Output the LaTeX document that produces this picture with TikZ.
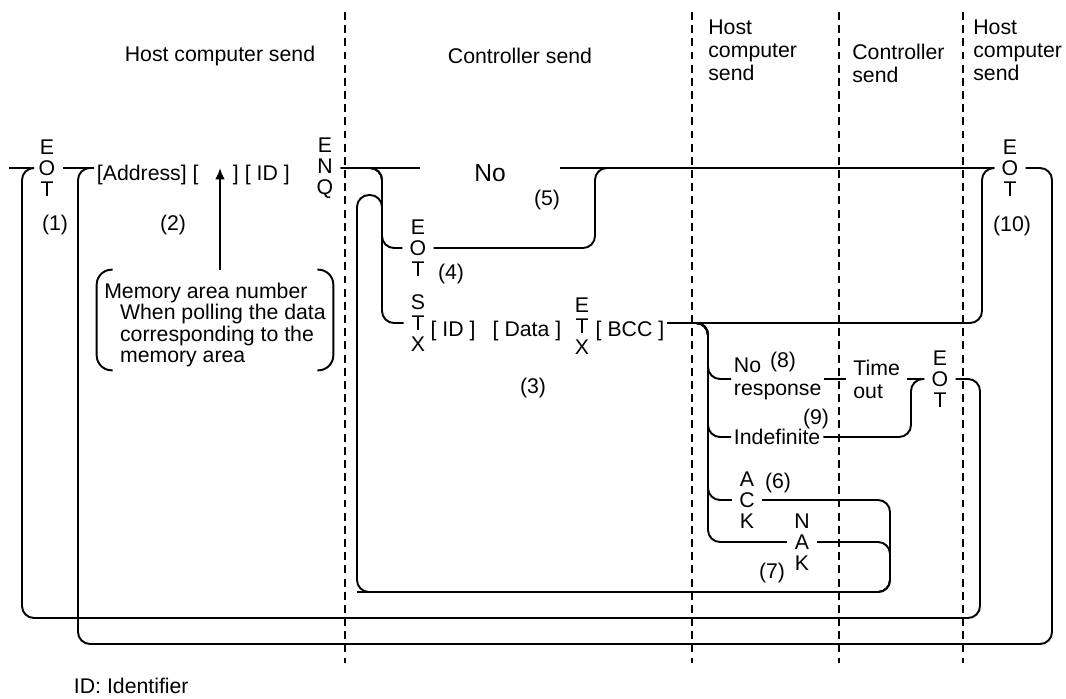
\documentclass[tikz,border=0pt]{standalone}
\usepackage{fontspec}
\setmainfont{Liberation Sans}
\usetikzlibrary{arrows.meta}

\tikzset{
  txt/.style={inner sep=1.5pt, font=\fontsize{12.1}{14}\selectfont},
  stack/.style={align=center, inner xsep=4pt, inner ysep=0pt, font=\fontsize{12.1}{12}\selectfont},
  head/.style={align=left, anchor=west, inner sep=0pt, font=\fontsize{12.1}{13}\selectfont},
  wire/.style={line width=1.1pt, rounded corners=2.4mm},
  sep/.style={line width=0.85pt, dash pattern=on 4.5pt off 3pt},
}

\begin{document}
\begin{tikzpicture}[x=0.02cm, y=-0.02cm]
    \useasboundingbox (0,0) rectangle (1066,699);

    % Dashed lines between senders
    \foreach \x in {345,692,839,963}{
        \draw[sep] (\x,12) -- (\x,663);
    }

    % Headings
    \node[txt] (hostA) at (220,56) {Host computer send};
    \node[txt] (ctrlA) at (520,56) {Controller send};
    \node[head] (hostB) at (708,50) {Host\\computer\\send};
    \node[head] (ctrlB) at (852,63) {Controller\\send};
    \node[head] (hostC) at (973,50) {Host\\computer\\send};

    % Host computer send: polling
    \node[stack] (eotA) at (47,168) {E\\O\\T};
    \node[txt, anchor=west] (addr) at (94,175) {[Address] [};
    \node[txt, anchor=west] (idA) at (230,175) {] [ ID ]};
    \node[stack] (enq) at (325,168) {E\\N\\Q};
    \node[txt] (n1) at (55,225) {(1)};
    \node[txt] (n2) at (173,225) {(2)};

    % Memory area note
    \node[txt, align=left, font=\fontsize{12.1}{12.3}\selectfont,
          minimum width=4.72cm, minimum height=2cm] (memo) at (215,325)
          {Memory area number\\\hspace*{9pt}When polling the data\\\hspace*{9pt}corresponding to the\\\hspace*{9pt}memory area};
    \draw[wire, rounded corners=3mm] ([shift={(0.32cm,0.1cm)}]memo.north west) -- ([yshift=0.1cm]memo.north west)
        -- ([yshift=0.1cm]memo.south west) -- ([shift={(0.32cm,0.1cm)}]memo.south west);
    \draw[wire, rounded corners=3mm] ([shift={(-0.32cm,0.1cm)}]memo.north east) -- ([yshift=0.1cm]memo.north east)
        -- ([yshift=0.1cm]memo.south east) -- ([shift={(-0.32cm,0.1cm)}]memo.south east);
    \coordinate (ptr) at (220,168);
    \draw[line width=1.1pt, -{Latex[length=6.5pt,width=5.5pt]}] ([yshift=0.1cm]memo.north -| ptr) -- (ptr);

    % Controller send: reply
    \node[txt, font=\fontsize{14}{16}\selectfont, minimum width=2.8cm] (no) at (490,173) {No};
    \node[txt] (n5) at (547,200) {(5)};
    \node[stack] (eotB) at (418,248) {E\\O\\T};
    \node[txt] (n4) at (451,274) {(4)};
    \node[stack] (stx) at (418,323) {S\\T\\X};
    \node[txt] (idB) at (453,331) {[ ID ]};
    \node[txt] (data) at (527,331) {[ Data ]};
    \node[stack] (etx) at (582,326) {E\\T\\X};
    \node[txt] (bcc) at (630,331) {[ BCC ]};
    \node[txt] (n3) at (533,388) {(3)};

    % Host computer send: answer
    \node[head, inner xsep=1.5pt] (nores) at (731,379) {No\\response};
    \node[txt] (n8) at (783,362) {(8)};
    \node[txt, anchor=west] (indef) at (731,437) {Indefinite};
    \node[txt] (n9) at (816,419) {(9)};
    \node[stack] (ack) at (747,500) {A\\C\\K};
    \node[txt] (n6) at (778,483) {(6)};
    \node[stack] (nak) at (802,542) {N\\A\\K};
    \node[txt] (n7) at (772,573) {(7)};

    % Controller send: time out
    \node[head, inner xsep=4pt] (tout) at (846,379) {Time\\out};
    \node[stack] (eotC) at (940,379) {E\\O\\T};

    % Host computer send: end
    \node[stack] (eotD) at (1010,168) {E\\O\\T};
    \node[txt] (n10) at (1012,226) {(10)};

    \node[txt, anchor=west] (note) at (71,686) {ID: Identifier};

    % Corners of the paths
    \coordinate (start) at (9,168);
    \coordinate (colA) at (382,0);
    \coordinate (colB) at (708,0);
    \coordinate (jNo) at (595,168);
    \coordinate (jTx) at (982,168);
    \coordinate (jTo) at (911,379);
    \coordinate (r7) at (890,592);
    \coordinate (l7) at (357,592);
    \coordinate (top7) at (357,195);
    \coordinate (back7) at (382,225);
    \coordinate (r1) at (980,618);
    \coordinate (l1) at (22,618);
    \coordinate (r2) at (1052,644);
    \coordinate (l2) at (78,644);

    % Main line
    \draw[wire] (start) -- (eotA.west);
    \draw[wire] (eotA.east) -- (eotA.east -| addr.west);
    \draw[wire] (enq.east) -- (enq.east -| no.west);
    \draw[wire] (enq.east -| no.east) -- (eotD.west);

    % After ENQ
    \draw[wire] (enq.east) -| (colA |- eotB.west) -- (eotB.west);
    \draw[wire] (enq.east) -| (colA |- stx.west) -- (stx.west);
    \draw[wire] (eotB.east) -| (jNo) -- (eotD.west);
    \draw[wire] (bcc.east |- stx.west) -| (jTx) -- (eotD.west);

    % After BCC
    \foreach \reply in {nores,indef,ack,nak}{
        \draw[wire] (bcc.east |- stx.west) -| (colB |- \reply.west) -- (\reply.west);
    }
    \draw[wire] (nores.east) -- (tout.west);
    \draw[wire] (tout.east) -- (eotC.west);
    \draw[wire] (indef.east) -| (jTo) -- (eotC.west);

    % ACK / NAK back
    \draw[wire] (ack.east) -| (r7) -- (l7) -- (top7) -| (back7);
    \draw[wire] (nak.east) -| (r7) -- (l7);

    % Loops back to the start
    \draw[wire] (eotC.east) -| (r1) -- (l1) |- (eotA.west);
    \draw[wire] (eotD.east) -| (r2) -- (l2) |- (eotA.east -| addr.west);
\end{tikzpicture}
\end{document}
